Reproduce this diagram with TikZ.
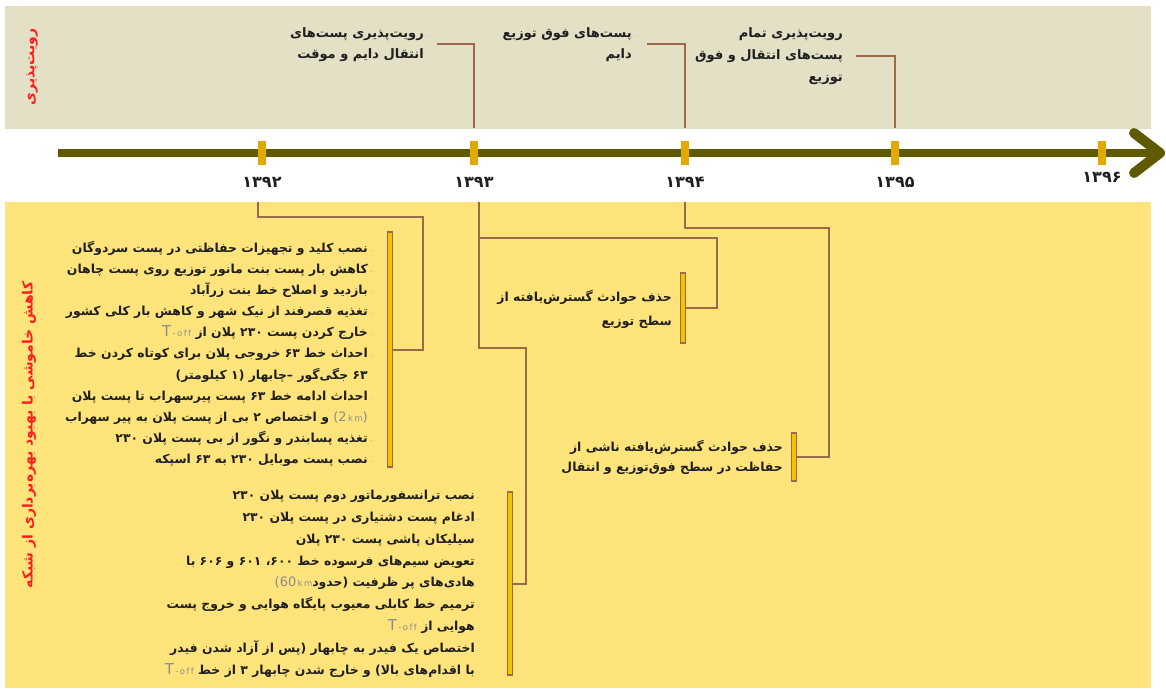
\documentclass[tikz,border=0pt]{standalone}
\usepackage{fontspec}
\setmainfont{DejaVu Sans}
\newfontfamily\farsi[Script=Arabic]{DejaVu Sans}
\TeXXeTstate=1
\usetikzlibrary{arrows.meta, positioning, calc}
\definecolor{bandtop}{HTML}{E3E0C6}
\definecolor{bandlow}{HTML}{FFE47B}
\definecolor{axisolive}{HTML}{5F5A00}
\definecolor{tickgold}{HTML}{E2A900}
\definecolor{linkbrown}{HTML}{9C6A48}
\definecolor{barfill}{HTML}{F4C300}
\definecolor{labelred}{HTML}{FF1E1E}
\definecolor{dashpink}{HTML}{F2A48C}
\definecolor{latingrey}{HTML}{8C8C8C}
\definecolor{inkdark}{HTML}{1F1F1F}
\newcommand{\fa}[1]{\beginR #1\endR}
\newcommand{\itm}[1]{\beginR #1\endR\makebox[0pt][l]{\hspace{2pt}\textcolor{dashpink}{\tiny -}}}
\newcommand{\setfa}[2]{\farsi\bfseries\fontsize{#1}{#2}\selectfont}
\newcommand{\smallkm}{{\fontsize{8.5}{9}\selectfont\,k\,m}}
\newcommand{\toff}{{\normalfont\color{latingrey}\fontsize{15}{16}\selectfont T{\fontsize{8.5}{9}\selectfont\,-\,o\,f\,f}}\ }
\newcommand{\kmtwo}{\ {\normalfont\color{latingrey}\fontsize{13}{14}\selectfont(2\smallkm)}}
\newcommand{\kmsixty}{{\normalfont\color{latingrey}\fontsize{13}{14}\selectfont(60\smallkm}}

\begin{document}
\begin{tikzpicture}[x=1pt, y=-1pt,
  every node/.style={inner sep=0pt, text=inkdark, font=\setfa{12.4}{21.1}},
  tick/.style={fill=tickgold, minimum width=8pt, minimum height=24pt},
  year/.style={font=\setfa{16}{18}},
  side/.style={text=labelred, rotate=90, font=\setfa{14}{16}},
  note/.style={align=right, anchor=north east},
  bar/.style={draw=linkbrown, fill=barfill, line width=1.5pt, minimum width=5pt},
  link/.style={draw=linkbrown, line width=2pt}]
  \useasboundingbox (0,0) rectangle (1166,688);
  \fill[bandtop] (5,6) rectangle (1151,129);
  \fill[bandlow] (5,202) rectangle (1151,688);
  \draw[axisolive, line width=8pt, -{Straight Barb[length=26pt, width=40pt, line width=10pt, round]}] (58,153) -- (1165,153);
  \foreach \yr/\px/\ylab/\py in {92/262/۱۳۹۲/182, 93/474/۱۳۹۳/182, 94/685/۱۳۹۴/182, 95/895/۱۳۹۵/182, 96/1102/۱۳۹۶/177} {
    \node[tick] (t\yr) at (\px,153) {};
    \node[year] (y\yr) at (\px,\py) {\fa{\ylab}};
  }
  \node[side] (lbltop) at (32,67) {\fa{رویت‌پذیری}};
  \node[side] (lbllow) at (29,435) {\fa{کاهش خاموشی با بهبود بهره‌برداری از شبکه}};

  \node[note, font=\setfa{13}{21}] (n93) at (424,27) {\itm{رویت‌پذیری پست‌های}\\\fa{انتقال دایم و موقت}};
  \node[note, font=\setfa{13}{21}] (n94) at (632,27) {\itm{پست‌های فوق توزیع}\\\fa{دایم}};
  \node[note, font=\setfa{13}{22}] (n95) at (843,27) {\itm{رویت‌پذیری تمام}\\\fa{پست‌های انتقال و فوق}\\\fa{توزیع}};
  \draw[link] (t93.north) ++(0,-13) |- ([xshift=13pt]n93.east);
  \draw[link] (t94.north) ++(0,-13) |- ([xshift=15pt]n94.east);
  \draw[link] (t95.north) ++(0,-13) |- ([xshift=13pt]n95.east);

  \node[bar, minimum height=235pt] (bA) at (390,349.5) {};
  \node[bar, minimum height=70pt] (bB) at (683,308) {};
  \node[bar, minimum height=183pt] (bC) at (510,583.5) {};
  \node[bar, minimum height=48pt] (bD) at (794,457) {};
  \node[note] (lA) at (368,241) {\itm{نصب کلید و تجهیزات حفاظتی در پست سردوگان}\\
    \itm{کاهش بار پست بنت مانور توزیع روی پست چاهان}\\
    \itm{بازدید و اصلاح خط بنت زرآباد}\\
    \itm{تغذیه قصرفند از نیک شهر و کاهش بار کلی کشور}\\
    \toff\itm{خارج کردن پست ۲۳۰ پلان از}\\
    \itm{احداث خط ۶۳ خروجی پلان برای کوتاه کردن خط}\\
    \fa{۶۳ جگی‌گور –چابهار  (۱ کیلومتر)}\\
    \itm{احداث ادامه خط ۶۳ پست پیرسهراب تا پست پلان}\\
    \fa{و اختصاص ۲ بی از پست پلان به پیر سهراب}\kmtwo\\
    \itm{تغذیه پسابندر و نگور از بی پست پلان ۲۳۰}\\
    \itm{نصب پست موبایل ۲۳۰ به ۶۳ اسپکه}};
  \node[note, font=\setfa{12.4}{21.8}] (lB) at (475,490) {\itm{نصب ترانسفورماتور دوم پست پلان ۲۳۰}\\
    \itm{ادغام پست دشتیاری در پست پلان ۲۳۰}\\
    \itm{سیلیکان پاشی پست ۲۳۰ پلان}\\
    \itm{تعویض سیم‌های فرسوده خط ۶۰۰، ۶۰۱ و ۶۰۶ با}\\
    \kmsixty\fa{هادی‌های پر ظرفیت (حدود}\\
    \itm{ترمیم خط کابلی معیوب پایگاه هوایی و خروج پست}\\
    \toff\fa{هوایی از}\\
    \itm{اختصاص یک فیدر به چابهار (پس از آزاد شدن فیدر}\\
    \toff\fa{با اقدام‌های بالا) و خارج شدن چابهار ۳ از خط}};
  \node[note, font=\setfa{12.4}{24}] (nB) at (672,290) {\itm{حذف حوادث گسترش‌یافته از}\\\fa{سطح توزیع}};
  \node[note, font=\setfa{12.4}{20.5}] (nD) at (783,440) {\itm{حذف حوادث گسترش‌یافته ناشی از}\\\fa{حفاظت در سطح فوق‌توزیع و انتقال}};

  \coordinate (d92) at (258,202);
  \coordinate (d93) at (479,202);
  \coordinate (d94) at (685,202);
  \draw[link] (d92) -- ++(0,15) -| ([xshift=30pt]bA.east) -- (bA.east);
  \draw[link] (d93) -- ++(0,36) -| ([xshift=31pt]bB.east) -- (bB.east);
  \draw[link] (d93) -- ++(0,146) -| ([xshift=12.5pt]bC.east) -- (bC.east);
  \draw[link] (d94) -- ++(0,26) -| ([xshift=31.5pt]bD.east) -- (bD.east);
\end{tikzpicture}
\end{document}
